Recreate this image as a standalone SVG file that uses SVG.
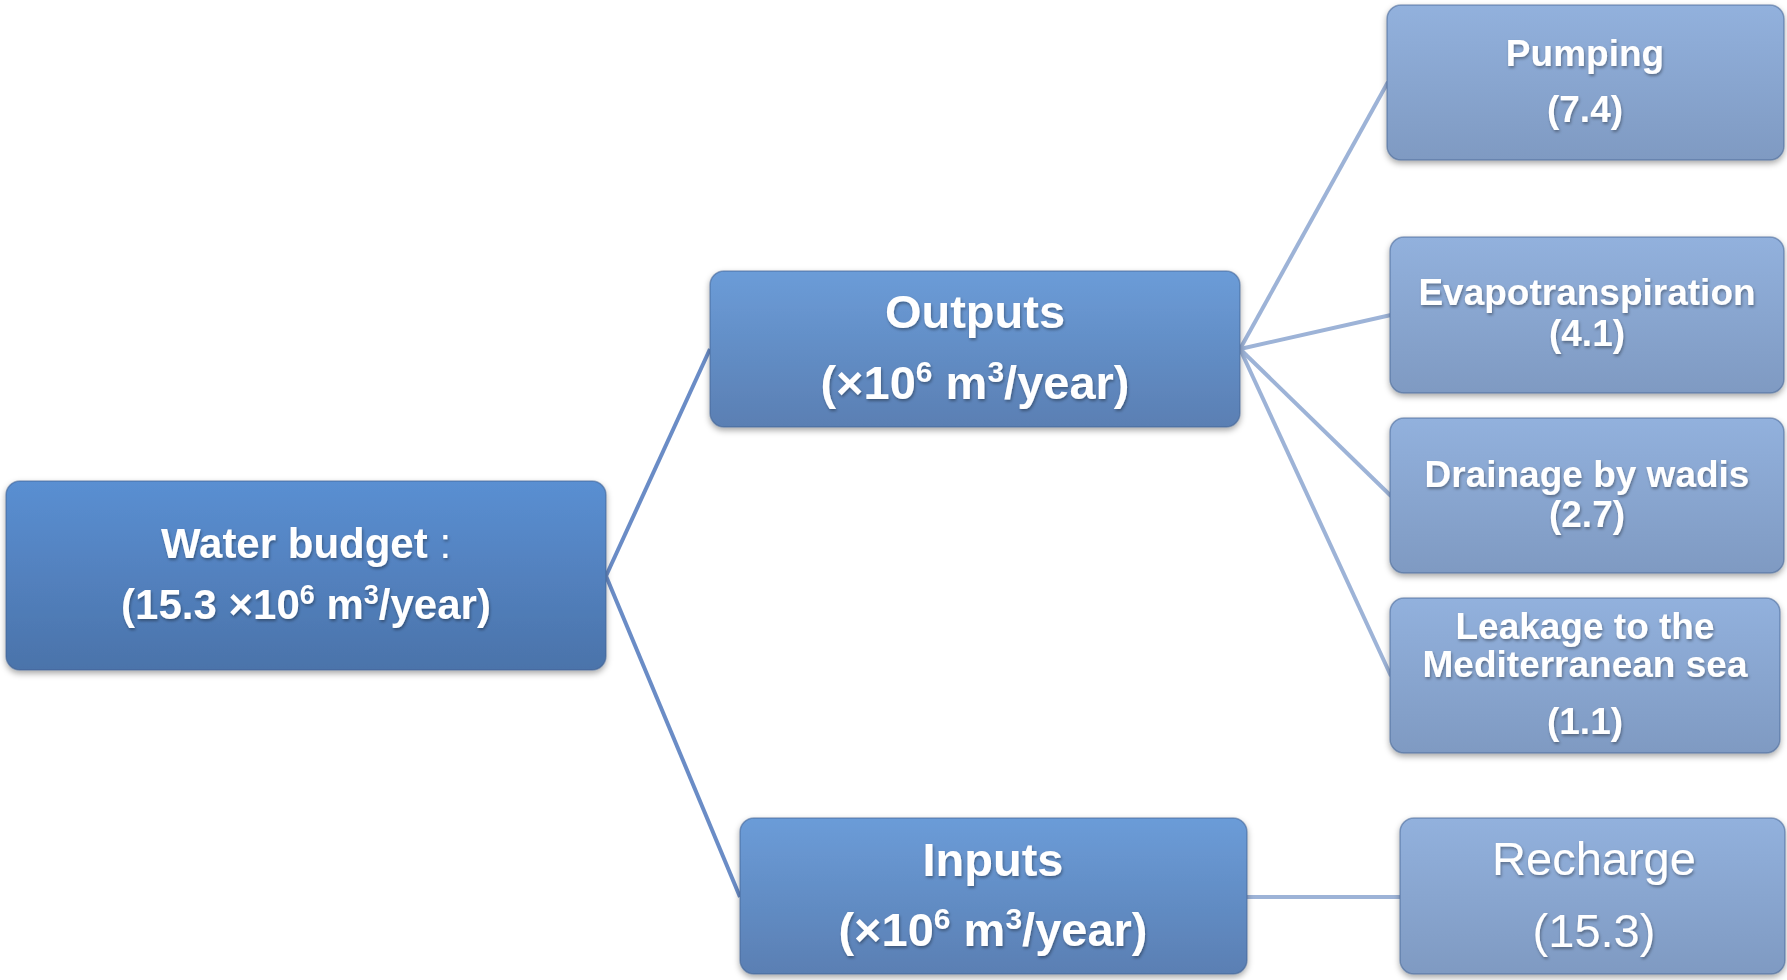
<svg xmlns="http://www.w3.org/2000/svg" width="1787" height="980" viewBox="0 0 1787 980">
<defs>
<linearGradient id="gMain" x1="0" y1="0" x2="0" y2="1"><stop offset="0" stop-color="#5a8fd2"/><stop offset="1" stop-color="#4b73aa"/></linearGradient>
<linearGradient id="gMid" x1="0" y1="0" x2="0" y2="1"><stop offset="0" stop-color="#6b9cd8"/><stop offset="1" stop-color="#5a7fb3"/></linearGradient>
<linearGradient id="gLeaf" x1="0" y1="0" x2="0" y2="1"><stop offset="0" stop-color="#92b1dd"/><stop offset="1" stop-color="#7f9ac2"/></linearGradient>
<filter id="sh" x="-5%" y="-10%" width="110%" height="130%"><feDropShadow dx="0" dy="3" stdDeviation="3" flood-color="#000" flood-opacity="0.35"/></filter>
<filter id="tsh" x="-5%" y="-20%" width="110%" height="150%"><feDropShadow dx="1" dy="2" stdDeviation="1.5" flood-color="#000" flood-opacity="0.35"/></filter>
</defs>
<style>
.box{stroke:#3f5f8f;stroke-opacity:0.5;stroke-width:1.5;filter:url(#sh)}
text{fill:#fff;font-family:"Liberation Sans",Arial,sans-serif;text-anchor:middle;filter:url(#tsh)}
.b{font-weight:bold}
.big{font-size:47px}
.mid{font-size:42px}
.sm{font-size:37px}
.c1{stroke:#6a8cc6;stroke-width:4;fill:none}
.c2{stroke:#9db3d7;stroke-width:4;fill:none}
</style>
<g id="connectors">
<line class="c1" x1="606" y1="576" x2="710" y2="349"/>
<line class="c1" x1="606" y1="576" x2="740" y2="897"/>
<line class="c2" x1="1240" y1="349" x2="1388" y2="82"/>
<line class="c2" x1="1240" y1="349" x2="1391" y2="315"/>
<line class="c2" x1="1240" y1="349" x2="1391" y2="496"/>
<line class="c2" x1="1240" y1="349" x2="1391" y2="676"/>
<line class="c2" x1="1247" y1="897" x2="1400" y2="897"/>
</g>
<g id="water-budget">
<rect class="box" x="6" y="481" width="600" height="189" rx="14" fill="url(#gMain)"/>
<text class="b mid" x="306" y="558">Water budget <tspan font-weight="normal">:</tspan></text>
<text class="b mid" x="306" y="619">(15.3 ×10<tspan font-size="27" dy="-15">6</tspan><tspan dy="15"> m</tspan><tspan font-size="27" dy="-15">3</tspan><tspan dy="15">/year)</tspan></text>
</g>
<g id="outputs">
<rect class="box" x="710" y="271" width="530" height="156" rx="14" fill="url(#gMid)"/>
<text class="b big" x="975" y="328">Outputs</text>
<text class="b big" x="975" y="399">(×10<tspan font-size="30" dy="-17">6</tspan><tspan dy="17"> m</tspan><tspan font-size="30" dy="-17">3</tspan><tspan dy="17">/year)</tspan></text>
</g>
<g id="inputs">
<rect class="box" x="740" y="818" width="507" height="156" rx="14" fill="url(#gMid)"/>
<text class="b big" x="993" y="876">Inputs</text>
<text class="b big" x="993" y="946">(×10<tspan font-size="30" dy="-17">6</tspan><tspan dy="17"> m</tspan><tspan font-size="30" dy="-17">3</tspan><tspan dy="17">/year)</tspan></text>
</g>
<g id="pumping">
<rect class="box" x="1387" y="5" width="397" height="155" rx="14" fill="url(#gLeaf)"/>
<text class="b sm" x="1585" y="66">Pumping</text>
<text class="b sm" x="1585" y="122">(7.4)</text>
</g>
<g id="evapotranspiration">
<rect class="box" x="1390" y="237" width="394" height="156" rx="14" fill="url(#gLeaf)"/>
<text class="b sm" x="1587" y="305">Evapotranspiration</text>
<text class="b sm" x="1587" y="346">(4.1)</text>
</g>
<g id="drainage">
<rect class="box" x="1390" y="418" width="394" height="155" rx="14" fill="url(#gLeaf)"/>
<text class="b sm" x="1587" y="487">Drainage by wadis</text>
<text class="b sm" x="1587" y="527">(2.7)</text>
</g>
<g id="leakage">
<rect class="box" x="1390" y="598" width="390" height="155" rx="14" fill="url(#gLeaf)"/>
<text class="b sm" x="1585" y="639">Leakage to the</text>
<text class="b sm" x="1585" y="677">Mediterranean sea</text>
<text class="b sm" x="1585" y="734">(1.1)</text>
</g>
<g id="recharge">
<rect class="box" x="1400" y="818" width="385" height="156" rx="14" fill="url(#gLeaf)"/>
<text class="big" x="1594" y="875">Recharge</text>
<text class="big" x="1594" y="947">(15.3)</text>
</g>
</svg>
